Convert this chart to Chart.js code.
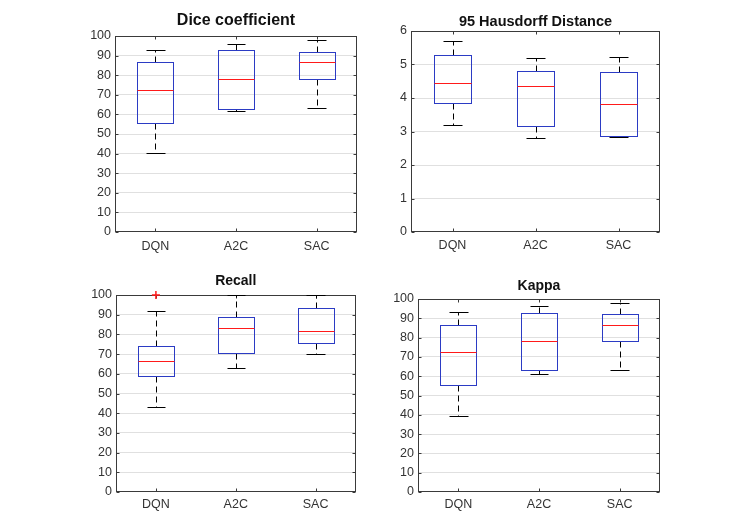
<!DOCTYPE html>
<html>
<head>
<meta charset="utf-8">
<script src="https://cdn.jsdelivr.net/npm/chart.js@4"></script>
<style>
  html, body { margin: 0; padding: 0; background: #fff; }
  body { width: 741px; height: 521px; position: relative; overflow: hidden; }
  .panel { position: absolute; }
</style>
</head>
<body>
<div class="panel" id="p1"><canvas id="diceChart"></canvas></div>
<div class="panel" id="p2"><canvas id="hausChart"></canvas></div>
<div class="panel" id="p3"><canvas id="recallChart"></canvas></div>
<div class="panel" id="p4"><canvas id="kappaChart"></canvas></div>
<script>
'use strict';

// categories
var categories = ['DQN', 'A2C', 'SAC'];

// Dice coefficient
var diceLow  = [40.5, 61.5, 63.5];
var diceQ1   = [55.5, 63.0, 78.0];
var diceMed  = [72.5, 78.0, 86.5];
var diceQ3   = [86.5, 93.0, 92.0];
var diceHigh = [93.0, 96.0, 98.0];

// 95 Hausdorff Distance
var hausLow  = [3.20, 2.80, 2.83];
var hausQ1   = [3.85, 3.17, 2.86];
var hausMed  = [4.45, 4.37, 3.82];
var hausQ3   = [5.28, 4.82, 4.78];
var hausHigh = [5.70, 5.20, 5.22];

// Recall
var recallLow  = [43.0, 62.8, 70.0];
var recallQ1   = [59.0, 70.5, 75.6];
var recallMed  = [66.3, 83.2, 81.8];
var recallQ3   = [74.3, 88.7, 93.2];
var recallHigh = [92.0, 100.0, 100.0];
var recallOutlierCat = ['DQN'];
var recallOutlierVal = [100];

// Kappa
var kappaLow  = [39.5, 61.3, 63.3];
var kappaQ1   = [55.2, 63.0, 78.0];
var kappaMed  = [72.7, 78.0, 86.3];
var kappaQ3   = [86.5, 93.0, 92.0];
var kappaHigh = [93.2, 96.2, 97.8];

// tick settings
var pctTicks = { min: 0, max: 100, step: 10 };
var hausTicks = { min: 0, max: 6, step: 1 };

var FONT = "'Liberation Sans', Arial, Helvetica, sans-serif";
var AXIS_COLOR = '#3a3a3a';
var TEXT_COLOR = '#333333';
var GRID_COLOR = '#e0e0e0';
var BOX_COLOR = '#2b3bc4';
var MED_COLOR = '#ff1a1a';
var BOX_HALF = 0.225;
var CAP_HALF = 0.115;
var Y_W = 45;
var X_H = 30;
var PAD_R = 4;

function px(v) { return Math.round(v) + 0.5; }

function boxPlugin(st) {
    return {
        id: 'boxplot',
        afterDatasetsDraw: function (chart) {
            var ctx = chart.ctx;
            var x = chart.scales.x, y = chart.scales.y;
            ctx.save();
            ctx.lineWidth = 1;
            st.low.forEach(function (lo, i) {
                var cx = px(x.getPixelForValue(i + 1));
                var bl = px(x.getPixelForValue(i + 1 - BOX_HALF));
                var br = px(x.getPixelForValue(i + 1 + BOX_HALF));
                var cl = px(x.getPixelForValue(i + 1 - CAP_HALF));
                var cr = px(x.getPixelForValue(i + 1 + CAP_HALF));
                var yLo = px(y.getPixelForValue(lo));
                var yQ1 = px(y.getPixelForValue(st.q1[i]));
                var yMed = px(y.getPixelForValue(st.med[i]));
                var yQ3 = px(y.getPixelForValue(st.q3[i]));
                var yHi = px(y.getPixelForValue(st.high[i]));
                // whiskers
                ctx.strokeStyle = '#000';
                ctx.setLineDash([6, 4]);
                ctx.beginPath();
                ctx.moveTo(cx, yQ1); ctx.lineTo(cx, yLo);
                ctx.moveTo(cx, yQ3); ctx.lineTo(cx, yHi);
                ctx.stroke();
                ctx.setLineDash([]);
                ctx.beginPath();
                ctx.moveTo(cl, yLo); ctx.lineTo(cr, yLo);
                ctx.moveTo(cl, yHi); ctx.lineTo(cr, yHi);
                ctx.stroke();
                // box
                ctx.strokeStyle = BOX_COLOR;
                ctx.strokeRect(bl, yQ3, br - bl, yQ1 - yQ3);
                // median
                ctx.strokeStyle = MED_COLOR;
                ctx.beginPath();
                ctx.moveTo(bl, yMed); ctx.lineTo(br, yMed);
                ctx.stroke();
            });
            ctx.restore();
        },
        beforeDatasetsDraw: function (chart) {
            // full axes box with inward ticks
            var ctx = chart.ctx;
            var a = chart.chartArea;
            var l = px(a.left), r = px(a.right) - 1, t = px(a.top), b = px(a.bottom) - 1;
            ctx.save();
            ctx.strokeStyle = AXIS_COLOR;
            ctx.lineWidth = 1;
            ctx.strokeRect(l, t, r - l, b - t);
            ctx.beginPath();
            chart.scales.y.ticks.forEach(function (tk) {
                var yy = px(chart.scales.y.getPixelForValue(tk.value));
                ctx.moveTo(l, yy); ctx.lineTo(l + 3, yy);
                ctx.moveTo(r, yy); ctx.lineTo(r - 3, yy);
            });
            chart.scales.x.ticks.forEach(function (tk) {
                var xx = px(chart.scales.x.getPixelForValue(tk.value));
                ctx.moveTo(xx, b); ctx.lineTo(xx, b - 3);
                ctx.moveTo(xx, t); ctx.lineTo(xx, t + 3);
            });
            ctx.stroke();
            ctx.restore();
        }
    };
}

function generateBoxChart(divId, canvasId, title, titleSize, area, titleMid, xPad, stats, ticks, outliers) {
    var lh = titleSize * 1.2;
    var top = Math.round(titleMid - lh / 2);
    var left = area.left - Y_W;
    var width = area.right - left + PAD_R;
    var height = area.bottom - top + X_H;
    var div = document.getElementById(divId);
    div.style.left = left + 'px';
    div.style.top = top + 'px';
    div.style.width = width + 'px';
    div.style.height = height + 'px';

    var outlierData = (outliers || { cat: [], val: [] }).cat.map(function (c, i) {
        return { x: categories.indexOf(c) + 1, y: outliers.val[i] };
    });

    return new Chart(document.getElementById(canvasId), {
        type: 'scatter',
        data: {
            datasets: [{
                label: 'outliers',
                data: outlierData,
                pointStyle: 'cross',
                pointRadius: 4,
                borderColor: MED_COLOR,
                backgroundColor: MED_COLOR,
                borderWidth: 1.5,
                clip: false
            }]
        },
        options: {
            responsive: true,
            maintainAspectRatio: false,
            animation: false,
            events: [],
            layout: { padding: { left: 0, right: PAD_R, top: 0, bottom: 0 } },
            plugins: {
                legend: { display: false },
                tooltip: { enabled: false },
                title: {
                    display: true,
                    text: title,
                    fullSize: false,
                    color: '#111',
                    font: { family: FONT, size: titleSize, weight: 'bold', lineHeight: 1.2 },
                    padding: { top: 0, bottom: area.top - top - lh }
                }
            },
            scales: {
                x: {
                    type: 'linear',
                    min: 0.5,
                    max: 3.5,
                    afterFit: function (s) { s.height = X_H; },
                    afterBuildTicks: function (s) {
                        s.ticks = categories.map(function (c, i) { return { value: i + 1 }; });
                    },
                    grid: { display: false, drawTicks: false },
                    border: { display: false },
                    ticks: {
                        padding: xPad,
                        color: TEXT_COLOR,
                        font: { family: FONT, size: 12.5 },
                        callback: function (v) { return categories[v - 1]; }
                    }
                },
                y: {
                    min: ticks.min,
                    max: ticks.max,
                    afterFit: function (s) { s.width = Y_W; },
                    grid: {
                        color: function (c) {
                            return (c.tick.value === ticks.min || c.tick.value === ticks.max) ? 'rgba(0,0,0,0)' : GRID_COLOR;
                        },
                        drawTicks: false
                    },
                    border: { display: false },
                    ticks: {
                        stepSize: ticks.step,
                        padding: 4,
                        color: TEXT_COLOR,
                        font: { family: FONT, size: 12.5 }
                    }
                }
            }
        },
        plugins: [boxPlugin(stats)]
    });
}

generateBoxChart('p1', 'diceChart', 'Dice coefficient', 16,
    { left: 115, right: 357, top: 36, bottom: 232 }, 21, 7,
    { low: diceLow, q1: diceQ1, med: diceMed, q3: diceQ3, high: diceHigh }, pctTicks);

generateBoxChart('p2', 'hausChart', '95 Hausdorff Distance', 14.5,
    { left: 411, right: 660, top: 31, bottom: 232 }, 21.7, 6.5,
    { low: hausLow, q1: hausQ1, med: hausMed, q3: hausQ3, high: hausHigh }, hausTicks);

generateBoxChart('p3', 'recallChart', 'Recall', 14,
    { left: 116, right: 357, top: 295, bottom: 492 }, 281.3, 5,
    { low: recallLow, q1: recallQ1, med: recallMed, q3: recallQ3, high: recallHigh }, pctTicks,
    { cat: recallOutlierCat, val: recallOutlierVal });

generateBoxChart('p4', 'kappaChart', 'Kappa', 14,
    { left: 418, right: 660, top: 299, bottom: 492 }, 286.3, 5.5,
    { low: kappaLow, q1: kappaQ1, med: kappaMed, q3: kappaQ3, high: kappaHigh }, pctTicks);
</script>
</body>
</html>
